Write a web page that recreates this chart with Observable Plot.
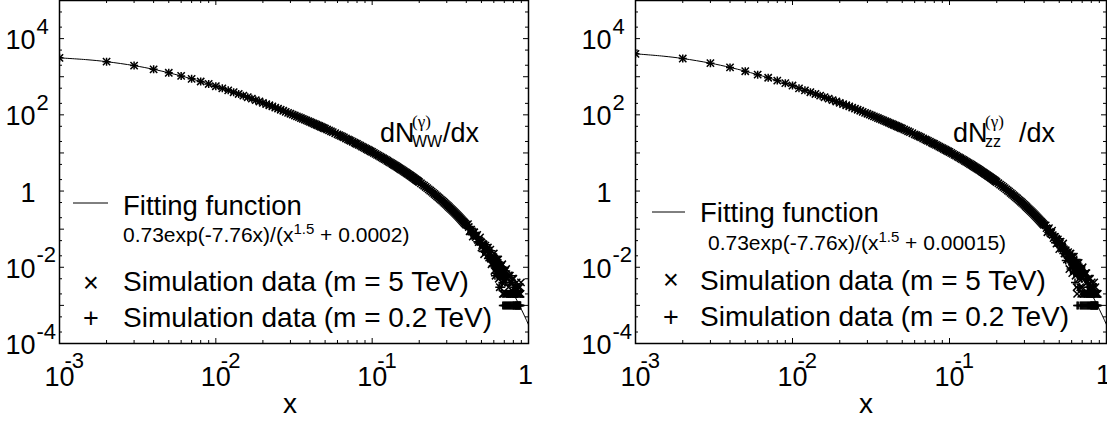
<!DOCTYPE html>
<html><head><meta charset="utf-8">
<script src="https://cdn.jsdelivr.net/npm/d3@7"></script>
<script src="https://cdn.jsdelivr.net/npm/@observablehq/plot@0.6"></script>
<style>
body{margin:0;background:#fff;}
#wrap{position:relative;width:1107px;height:421px;overflow:hidden;background:#fff;}
#wrap > div{position:absolute;top:0;}
svg{display:block;}
</style></head><body>
<div id="wrap"><div id="p1" style="left:0px"></div><div id="p2" style="left:576px"></div></div>
<script>
// ---------- data ----------
const fitX  = [0.001,0.0015,0.002,0.003,0.004,0.005,0.007,0.01,0.015,0.02,0.03,0.04,0.05,0.07,0.1,0.15,0.2,0.25,0.3,0.35,0.4,0.45,0.5,0.55,0.6,0.65,0.7,0.75,0.8,0.85,0.9,0.95,1.0];
const fitWW = [3127,2796,2483,1958,1562,1269,880,563,319,206.4,107.2,65.3,43.5,22.65,10.56,3.91,1.725,0.838,0.4326,0.2329,0.1294,0.0736,0.0426,0.02506,0.01492,0.00898,0.00545,0.00333,0.00205,0.00127,0.000792,0.000495,0.000311];
const fitZZ = [3988,3467,3002,2269,1756,1395,940,587,327,209.9,108.2,65.7,43.7,22.71,10.57,3.913,1.726,0.838,0.4327,0.2330,0.1294,0.0736,0.0426,0.02506,0.01492,0.00898,0.00545,0.00333,0.00205,0.00127,0.000792,0.000495,0.000311];

// simulation points, low-x part (both masses coincide)
const lowX  = [0.001,0.002,0.003,0.004,0.005,0.006,0.007,0.008,0.009,0.010];
const lowWW = [3127,2483,1958,1562,1269,1048,880,749,646,563];
const lowZZ = [3988,3002,2269,1756,1395,1133,940,793,678,587];

// middle part (both panels and both masses overlap within the line width)
const midX = [0.011,0.012,0.013,0.014,0.015,0.016,0.017,0.018,0.019,0.020,0.021,0.022,0.023,0.024,0.025,0.026,0.027,0.028,0.029,0.030,
  0.032,0.034,0.036,0.038,0.040,0.042,0.044,0.046,0.048,0.050,
  0.053,0.056,0.060,0.063,0.066,0.070,0.073,0.077,0.080,0.084,0.088,0.092,0.096,0.100,
  0.105,0.110,0.115,0.120,0.125,0.130,0.135,0.140,0.145,0.150,0.155,0.160,0.165,0.170,0.175,0.180,0.185,0.190,0.195,0.200,
  0.21,0.22,0.23,0.24,0.25,0.26,0.27,0.28,0.29,0.30,0.31,0.32,0.33,0.34,0.35,0.36,0.37,0.38,0.39,0.40];
const midY = [495,439,392,353,319,290,265,243,224,206,191,178,166,155,145,136,128,120,113,107,
  96.1,86.7,78.5,71.5,65.3,59.8,55.0,50.8,46.9,43.5,
  39.0,35.1,30.8,28.0,25.5,22.7,20.8,18.6,17.2,15.5,14.0,12.7,11.6,10.6,
  9.44,8.48,7.63,6.89,6.23,5.66,5.14,4.68,4.28,3.91,3.58,3.29,3.02,2.78,2.56,2.36,2.18,2.01,1.86,1.72,
  1.48,1.28,1.11,0.963,0.838,0.731,0.639,0.560,0.492,0.433,0.381,0.336,0.297,0.263,0.233,0.207,0.184,0.163,0.145,0.129];
const midXb = [0.031,0.033,0.035,0.037,0.039,0.041,0.043,0.045,0.047,0.049,
  0.0515,0.0545,0.058,0.0615,0.0645,0.068,0.0715,0.075,0.0785,0.082,0.086,0.090,0.094,0.098,
  0.1025,0.1075,0.1125,0.1175,0.1225,0.1275,0.1325,0.1375,0.1425,0.1475,0.1525,0.1575,0.1625,0.1675,0.1725,0.1775,0.1825,0.1875,0.1925,0.1975,
  0.205,0.215,0.225,0.235,0.245,0.255,0.265,0.275,0.285,0.295,0.305,0.315,0.325,0.335,0.345,0.355,0.365,0.375,0.385,0.395];
const midYb = [101.4,91.2,82.5,74.9,68.3,62.5,57.4,52.8,48.8,45.2,
  41.2,37.0,32.9,29.3,26.7,24.0,21.7,19.7,17.9,16.3,14.7,13.35,12.1,11.05,
  9.98,8.94,8.04,7.25,6.55,5.94,5.39,4.91,4.48,4.09,3.74,3.43,3.15,2.89,2.66,2.46,2.27,2.09,1.94,1.79,
  1.60,1.38,1.19,1.033,0.898,0.782,0.684,0.598,0.525,0.461,0.406,0.358,0.316,0.279,0.247,0.219,0.195,0.173,0.154,0.137];

// tail (scattered, quantised in steps of 1e-3)
const tailX = [0.41,0.42,0.43,0.44,0.45,0.46,0.47,0.48,0.49,0.50,0.51,0.52,0.53,0.54,0.55,0.56,0.57,0.58,0.59,
  0.600,0.605,0.610,0.615,0.620,0.625,0.630,0.635,0.640,0.645,
  0.650,0.655,0.660,0.665,0.670,0.675,0.680,0.685,0.690,0.695,
  0.700,0.705,0.710,0.715,0.720,0.725,0.730,0.735,0.740,0.745,
  0.750,0.755,0.760,0.765,0.770,0.775,0.780,0.785,0.790,0.795,
  0.800,0.805,0.810,0.815,0.820,0.825,0.830,0.835,0.840,0.845,
  0.850,0.855,0.860,0.865,0.870,0.875,0.880,0.885,0.890,0.895,
  0.900];
const ww5Tail = [0.136,0.088,0.097,0.064,0.083,0.062,0.071,0.046,0.061,0.033,0.041,0.022,0.037,0.025,0.033,0.018,0.029,0.012,0.019,
  0.023,0.008,0.015,0.006,0.016,0.010,0.016,0.007,0.016,0.005,
  0.010,0.003,0.011,0.006,0.011,0.004,0.012,0.002,0.007,0.002,
  0.008,0.004,0.008,0.002,0.009,0.002,0.005,0.002,0.006,0.003,
  0.006,0.002,0.006,0.002,0.004,0.002,0.004,0.002,0.005,0.002,
  0.005,0.002,0.003,0.002,0.003,0.002,0.003,0.002,0.004,0.002,
  0.002,0.002,0.003,0.002,0.002,0.002,0.003,0.002,0.002,0.004,
  null];
const ww02Tail = [0.104,0.118,0.073,0.087,0.070,0.082,0.047,0.060,0.040,0.053,0.026,0.037,0.028,0.039,0.017,0.028,0.015,0.027,0.011,
  0.011,0.020,0.006,0.015,0.010,0.018,0.006,0.014,0.007,0.014,
  0.003,0.010,0.007,0.013,0.003,0.010,0.004,0.001,0.010,0.001,
  0.007,0.001,0.004,0.001,0.008,0.001,0.006,0.001,0.002,0.001,
  0.006,0.001,0.004,0.001,0.002,0.001,0.006,0.001,0.004,0.001,
  0.001,0.001,0.003,0.001,0.001,0.001,0.001,0.001,0.001,0.001,
  0.001,0.001,0.001,0.001,0.001,0.001,0.001,0.001,0.001,null,
  null];
const zz5Tail = [0.126,0.083,0.106,0.077,0.091,0.058,0.063,0.042,0.054,0.030,0.047,0.031,0.042,0.023,0.028,0.016,0.025,0.009,0.023,
  0.019,0.007,0.019,0.011,0.019,0.008,0.013,0.006,0.013,0.003,
  0.002,0.013,0.007,0.013,0.005,0.008,0.003,0.009,0.002,0.009,
  0.003,0.010,0.002,0.006,0.002,0.006,0.002,0.007,0.002,0.007,
  0.002,0.004,0.002,0.005,0.002,0.005,0.002,0.005,0.002,0.003,
  0.002,0.004,0.002,0.003,0.002,0.003,0.002,0.004,0.002,0.002,
  0.003,0.002,0.002,0.002,0.002,0.002,0.002,null,null,null,
  null];
const zz02Tail = [0.110,0.123,0.082,0.096,0.061,0.070,0.044,0.060,0.044,0.056,0.032,0.043,0.023,0.031,0.015,0.028,0.018,0.024,0.009,
  0.013,0.022,0.010,0.018,0.007,0.013,0.004,0.014,0.008,0.016,
  0.001,0.010,0.001,0.012,0.003,0.010,0.001,0.011,0.001,0.007,
  0.001,0.007,0.001,0.008,0.001,0.008,0.001,0.005,0.001,0.005,
  0.001,0.003,0.001,0.004,0.001,0.003,0.001,0.003,0.001,0.001,
  0.001,0.001,0.001,0.001,0.001,0.001,0.001,0.001,0.001,0.001,
  0.001,0.001,0.001,0.001,0.001,0.001,0.001,null,null,null,
  null];
// further tail points lying close to the centre of the band
const tailXb = [0.415,0.425,0.435,0.445,0.455,0.465,0.475,0.485,0.495,0.505,0.515,0.525,0.535,0.545,0.555,0.565,0.575,0.585,0.595,
  0.6025,0.6075,0.6125,0.6175,0.6225,0.6275,0.6325,0.6375,0.6425,0.6475,0.6525,0.6575,0.6625,0.6675,0.6725,0.6775,0.6825,0.6875,0.6925,0.6975];
const ww5TailB = [0.114,0.092,0.087,0.081,0.067,0.066,0.052,0.050,0.047,0.038,0.039,0.030,0.029,0.028,0.022,0.023,0.017,0.017,0.018,
  0.015,0.013,0.014,0.012,0.013,0.011,0.011,0.010,0.010,0.009,0.009,0.008,0.008,0.008,0.007,0.007,0.007,0.006,0.006,0.006];
const ww02TailB = [0.104,0.102,0.090,0.075,0.072,0.059,0.059,0.047,0.044,0.043,0.034,0.034,0.031,0.025,0.025,0.020,0.020,0.016,0.015,
  0.014,0.015,0.013,0.013,0.012,0.012,0.010,0.011,0.009,0.010,0.008,0.009,0.008,0.007,0.007,0.006,0.006,0.006,0.005,0.005];
const zz5TailB = [0.106,0.099,0.085,0.080,0.070,0.063,0.054,0.051,0.044,0.041,0.035,0.033,0.030,0.026,0.024,0.021,0.020,0.017,0.016,
  0.014,0.014,0.013,0.013,0.012,0.011,0.011,0.010,0.009,0.009,0.009,0.008,0.008,0.007,0.007,0.007,0.006,0.006,0.006,0.005];
const zz02TailB = [0.112,0.095,0.089,0.076,0.069,0.061,0.057,0.049,0.046,0.039,0.037,0.032,0.028,0.027,0.023,0.022,0.018,0.018,0.015,
  0.015,0.013,0.013,0.012,0.012,0.011,0.010,0.010,0.010,0.009,0.008,0.008,0.007,0.008,0.007,0.006,0.007,0.006,0.005,0.006];

// axis ticks and labels
const xMajor = [0.001,0.01,0.1,1];
const xMinor = [0.002,0.003,0.004,0.005,0.006,0.007,0.008,0.009,0.02,0.03,0.04,0.05,0.06,0.07,0.08,0.09,0.2,0.3,0.4,0.5,0.6,0.7,0.8,0.9];
const xLabBase = ["10","10","10","1"];
const xLabExp  = ["-3","-2","-1",""];
const yMajor = [1e-4,1e-3,1e-2,1e-1,1,10,100,1e3,1e4,1e5];
const yMinor = [2e-4,5e-4,2e-3,5e-3,0.02,0.05,0.2,0.5,2,5,20,50,200,500,2e3,5e3,2e4,5e4];
const yLabVals = [1e-4,1e-2,1,1e2,1e4];
const yLabBase = ["10","10","1","10","10"];
const yLabExp  = ["-4","-2","","2","4"];

const FONT = "'Liberation Sans', Arial, Helvetica, sans-serif";
const SERIF = "'Liberation Serif', 'Times New Roman', serif";
const H = 421, MT = 0, MB = 78;

function panel(el, cfg) {
  const {width, marginLeft, marginRight, fitY, lowY, tail5, tail02, tail5b, tail02b} = cfg;
  const allX = [...lowX, ...midX, ...midXb, ...tailX, ...tailXb];
  const y5 = [...lowY, ...midY, ...midYb, ...tail5, ...tail5b];
  const y02 = [...lowY, ...midY, ...midYb, ...tail02, ...tail02b];
  const sim5 = allX.map((x, i) => ({x, y: y5[i]}));
  const sim02 = allX.map((x, i) => ({x, y: y02[i]}));
  const fit = fitX.map((x, i) => ({x, y: fitY[i]}));
  const pw = width - marginLeft - marginRight;
  const ph = H - MT - MB;
  const svg = Plot.plot({
    width, height: H, marginLeft, marginRight, marginTop: MT, marginBottom: MB,
    style: {fontFamily: FONT, background: "white", color: "black", overflow: "visible"},
    x: {type: "log", domain: [1e-3, 1], axis: null},
    y: {type: "log", domain: [1e-4, 1e5], axis: null},
    marks: [
      Plot.tickX(xMajor, {x: d => d, insetTop: ph - 5, stroke: "black"}),
      Plot.tickX(xMajor, {x: d => d, insetBottom: ph - 5, stroke: "black"}),
      Plot.tickX(xMinor, {x: d => d, insetTop: ph - 3, stroke: "black"}),
      Plot.tickX(xMinor, {x: d => d, insetBottom: ph - 3, stroke: "black"}),
      Plot.tickY(yMajor, {y: d => d, insetRight: pw - 5, stroke: "black"}),
      Plot.tickY(yMajor, {y: d => d, insetLeft: pw - 5, stroke: "black"}),
      Plot.tickY(yMinor, {y: d => d, insetRight: pw - 3, stroke: "black"}),
      Plot.tickY(yMinor, {y: d => d, insetLeft: pw - 3, stroke: "black"}),
      Plot.line(fit, {x: "x", y: "y", stroke: "black", strokeWidth: 1, curve: "catmull-rom", clip: true}),
      Plot.dot(sim5, {x: "x", y: "y", symbol: "times", r: 3.4, stroke: "black", strokeWidth: 1.5, clip: true}),
      Plot.dot(sim02, {x: "x", y: "y", symbol: "plus", r: 2.7, stroke: "black", strokeWidth: 1.5, clip: true}),
      Plot.frame({stroke: "black", strokeWidth: 1.5}),
      Plot.text(yLabVals, {y: d => d, text: (d, i) => yLabBase[i], frameAnchor: "left", textAnchor: "end", dx: -24, dy: 2, fontSize: 27, fill: "black"}),
      Plot.text(yLabVals, {y: d => d, text: (d, i) => yLabExp[i], frameAnchor: "left", textAnchor: "start", dx: -23, dy: -12, fontSize: 22, fill: "black"}),
      Plot.text(xMajor, {filter: (d, i) => xLabExp[i] !== "", x: d => d, text: (d, i) => xLabBase[i], frameAnchor: "bottom", textAnchor: "middle", lineAnchor: "bottom", dy: 42, fontSize: 27, fill: "black"}),
      Plot.text(xMajor, {filter: (d, i) => xLabExp[i] === "", x: d => d, text: (d, i) => xLabBase[i], frameAnchor: "bottom", textAnchor: "middle", lineAnchor: "bottom", dx: -3, dy: 40, fontSize: 27, fill: "black"}),
      Plot.text(xMajor, {x: d => d, text: (d, i) => xLabExp[i], frameAnchor: "bottom", textAnchor: "start", lineAnchor: "bottom", dx: 5, dy: 24, fontSize: 22, fill: "black"})
    ]
  });
  el.appendChild(svg);
  const s = d3.select(svg);
  const L = cfg.legend;
  const t = (x, y, str, size, anchor = "start", fam = FONT) => s.append("text").attr("x", x).attr("y", y)
      .attr("font-family", fam).attr("font-size", size).attr("fill", "black").attr("text-anchor", anchor).text(str);
  // legend
  s.append("line").attr("x1", L.lineX1).attr("x2", L.lineX2).attr("y1", L.lineY).attr("y2", L.lineY).attr("stroke", "black").attr("stroke-width", 1);
  t(L.textX, L.fitY, "Fitting function", 27.5);
  const f = s.append("text").attr("x", L.formX).attr("y", L.formY).attr("font-family", FONT).attr("font-size", 21)
      .attr("fill", "black").attr("text-anchor", "start");
  f.append("tspan").text("0.73exp(-7.76x)/(x");
  f.append("tspan").attr("font-size", 15).attr("dy", -8).text("1.5");
  f.append("tspan").attr("dy", 8).text(" + " + cfg.constant + ")");
  t(L.symX, L.sym5Y, "×", 27, "middle");
  t(L.textX, L.row5Y, "Simulation data (m = 5 TeV)", 28);
  t(L.symX, L.sym02Y, "+", 27, "middle");
  t(L.textX, L.row02Y, "Simulation data (m = 0.2 TeV)", 28);
  // annotation
  const A = cfg.annot;
  t(A.x, 142, "dN", 27);
  t(A.x + 32, 127, "(γ)", 17, "start", SERIF);
  t(A.x + 32, 147, A.sub, 16);
  t(A.x + A.slashDx, 142, "/dx", 27);
  // axis title
  t(marginLeft + 231, 413, "x", 28, "middle");
}

panel(document.getElementById("p1"), {
  width: 576, marginLeft: 59, marginRight: 48,
  fitY: fitWW, lowY: lowWW, tail5: ww5Tail, tail02: ww02Tail, tail5b: ww5TailB, tail02b: ww02TailB, constant: "0.0002",
  legend: {lineX1: 73, lineX2: 108, lineY: 203, textX: 123, fitY: 215, formX: 123, formY: 242, symX: 91, sym5Y: 292, row5Y: 291, sym02Y: 327, row02Y: 327},
  annot: {x: 380, sub: "WW", slashDx: 63}
});
panel(document.getElementById("p2"), {
  width: 531, marginLeft: 59, marginRight: 1,
  fitY: fitZZ, lowY: lowZZ, tail5: zz5Tail, tail02: zz02Tail, tail5b: zz5TailB, tail02b: zz02TailB, constant: "0.00015",
  legend: {lineX1: 76, lineX2: 109, lineY: 212, textX: 124, fitY: 222, formX: 132, formY: 250, symX: 95, sym5Y: 289, row5Y: 290, sym02Y: 326, row02Y: 326},
  annot: {x: 377, sub: "zz", slashDx: 66}
});
</script>
</body></html>
